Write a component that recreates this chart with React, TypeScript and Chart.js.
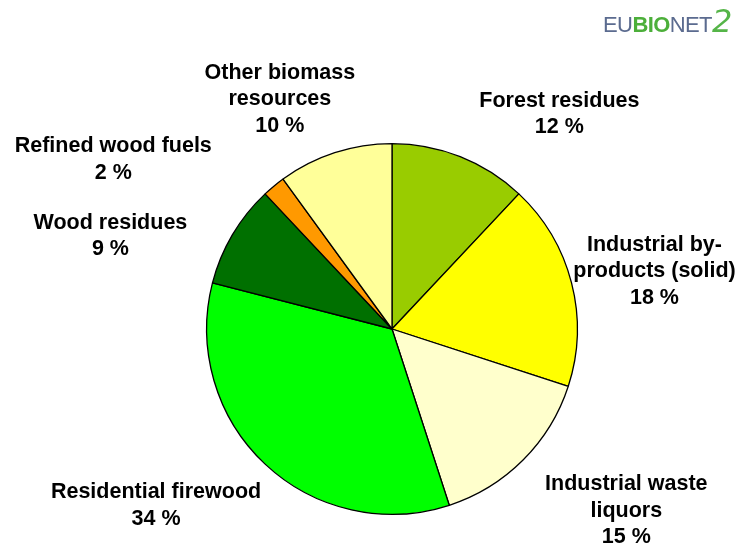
import React, { useEffect, useRef } from "react";
import { Chart, registerables } from "chart.js";

Chart.register(...registerables);

const categories = [
  ["Forest residues"],
  ["Industrial by-", "products (solid)"],
  ["Industrial waste", "liquors"],
  ["Residential firewood"],
  ["Wood residues"],
  ["Refined wood fuels"],
  ["Other biomass", "resources"],
];
const shares = [12, 18, 15, 34, 9, 2, 10];
const sliceColors = ["#99CC00", "#FFFF00", "#FFFFCC", "#00FF00", "#007000", "#FF9900", "#FFFF99"];
// label placement: angle from top (deg, clockwise) and distance in radius units
const labelAngles = [37.9, 77.6, 127.8, 233.2, 288.3, 301.3, 334];
const labelDistances = [1.47, 1.45, 1.6, 1.59, 1.6, 1.76, 1.38];

const labelPlugin = {
  id: "sliceLabels",
  afterDraw(chart: any) {
    const meta = chart.getDatasetMeta(0);
    const arc = meta.data[0];
    if (!arc) return;
    const { x, y, outerRadius } = arc.getProps(["x", "y", "outerRadius"], true);
    const ctx = chart.ctx;
    ctx.save();
    ctx.fillStyle = "#000";
    ctx.font = "bold 21.5px 'Liberation Sans', Arial, sans-serif";
    ctx.textAlign = "center";
    ctx.textBaseline = "middle";
    const lh = 26.5;
    categories.forEach((lines, i) => {
      const a = (labelAngles[i] * Math.PI) / 180;
      const d = labelDistances[i] * outerRadius;
      const cx = x + d * Math.sin(a);
      const cy = y - d * Math.cos(a);
      const all = [...lines, shares[i] + " %"];
      const top = cy - ((all.length - 1) * lh) / 2;
      all.forEach((t, j) => ctx.fillText(t, cx, top + j * lh));
    });
    ctx.restore();
  },
};

export default function App() {
  const ref = useRef<HTMLCanvasElement>(null);
  useEffect(() => {
    if (!ref.current) return;
    const chart = new Chart(ref.current, {
      type: "pie",
      data: {
        labels: categories.map((c) => c.join(" ")),
        datasets: [
          {
            data: shares,
            backgroundColor: sliceColors,
            borderColor: "#000",
            borderWidth: 1.3,
          },
        ],
      },
      options: {
        animation: false,
        responsive: false,
        layout: { padding: { left: 206, right: 167, top: 142, bottom: 31 } },
        plugins: { legend: { display: false }, tooltip: { enabled: false } },
      },
      plugins: [labelPlugin],
    });
    return () => chart.destroy();
  }, []);
  return (
    <div style={{ position: "absolute", left: 0, top: 0, width: 745, height: 547, background: "#fff" }}>
      <canvas ref={ref} width={745} height={547} style={{ display: "block" }} />
      <div
        style={{
          position: "absolute",
          left: 603,
          top: 3,
          fontFamily: "'Liberation Sans', Arial, sans-serif",
          fontSize: 22,
          letterSpacing: -0.6,
          color: "#5B6B8F",
          whiteSpace: "nowrap",
          lineHeight: "36px",
        }}
      >
        <span>EU</span>
        <span style={{ color: "#4CAF3A", fontWeight: "bold" }}>BIO</span>
        <span>NET</span>
        <span style={{ color: "#55B548", fontSize: 32, fontStyle: "italic", fontFamily: "'DejaVu Sans', sans-serif" }}>2</span>
      </div>
    </div>
  );
}
